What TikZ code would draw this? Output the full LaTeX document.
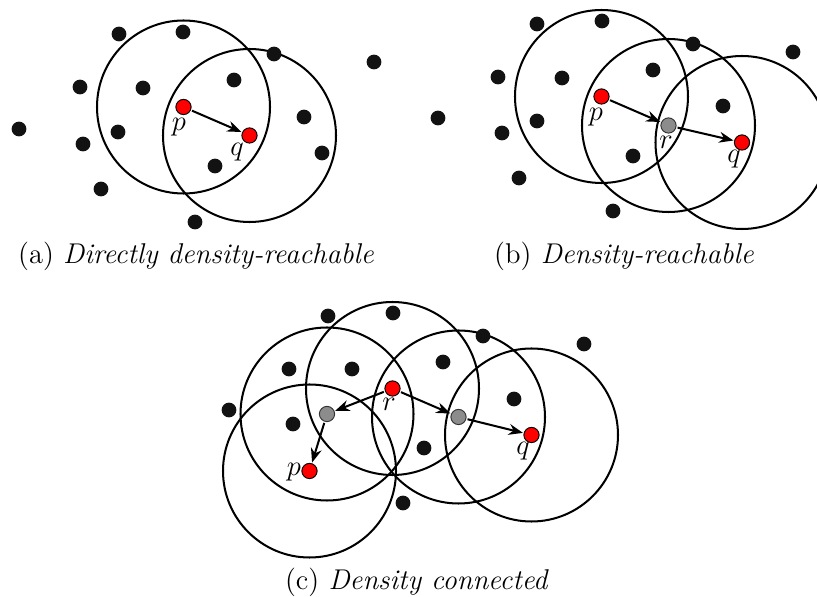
\documentclass[tikz,border=0pt]{standalone}
\usetikzlibrary{arrows.meta}
\begin{document}
\begin{tikzpicture}[x=0.42pt,y=-0.42pt,
  dot/.style={circle,fill=black!93,inner sep=0pt,minimum size=6.2pt},
  keypt/.style={circle,draw=black,line width=0.4pt,fill=red,inner sep=0pt,minimum size=6.4pt},
  midpt/.style={circle,draw=black!80,line width=0.4pt,fill=black!45,inner sep=0pt,minimum size=6.4pt},
  ring/.style={draw=black,line width=0.85pt},
  reach/.style={-{Stealth[length=6pt,width=4.6pt]},line width=0.85pt,shorten <=0.5pt,shorten >=0.3pt},
  lbl/.style={inner sep=0pt,font=\large},
  captext/.style={inner sep=0pt,font=\large}]
\useasboundingbox (0,0) rectangle (817,597);

% ---------- (a)
\draw[ring] (183.5,107) circle[radius=86.5];
\draw[ring] (249.5,135.5) circle[radius=86.5];
\foreach \n/\x/\y in {a1/119/34,a2/183/32,a3/274/54,a4/374/62,a5/80/87,a6/143/88,a7/234/80,a8/19/129,a9/118/132,a10/83/144,a11/304/117,a12/322/153,a13/215/166,a14/101/189,a15/195/222}
  \node[dot] (\n) at (\x,\y) {};
\node[keypt] (ap) at (183.5,107) {};
\node[keypt] (aq) at (249.5,135.5) {};
\node[lbl] (apl) at (179,127) {$p$};
\node[lbl] (aql) at (237,152) {$q$};
\draw[reach] (ap) -- (aq);
\node[captext] (capa) at (196,256) {(a) \textit{Directly density-reachable}};

% ---------- (b)
\draw[ring] (601.5,96.5) circle[radius=86.5];
\draw[ring] (668.5,125.5) circle[radius=86.5];
\draw[ring] (742,142.5) circle[radius=86.5];
\foreach \n/\x/\y in {b1/537/24,b2/602/21,b3/693/44,b4/793/52,b5/498/77,b6/562/78,b7/653/70,b8/438/118,b9/537/121,b10/502/133,b11/723/106,b12/633/156,b13/519/178,b14/613/211}
  \node[dot] (\n) at (\x,\y) {};
\node[keypt] (bp) at (601.5,96.5) {};
\node[midpt] (br) at (668.5,125.5) {};
\node[keypt] (bq) at (742,142.5) {};
\node[lbl] (bpl) at (596,117) {$p$};
\node[lbl] (brl) at (666,142) {$r$};
\node[lbl] (bql) at (734,159) {$q$};
\draw[reach] (bp) -- (br);
\draw[reach] (br) -- (bq);
\node[captext] (capb) at (624,256) {(b) \textit{Density-reachable}};

% ---------- (c)
\draw[ring] (309.5,471) circle[radius=86.5];
\draw[ring] (327,414) circle[radius=86.5];
\draw[ring] (392.5,388.5) circle[radius=86.5];
\draw[ring] (458.5,417) circle[radius=86.5];
\draw[ring] (531.5,435) circle[radius=86.5];
\foreach \n/\x/\y in {c1/328/316,c2/393/313,c3/483/336,c4/584/344,c5/289/369,c6/352/369,c7/443/362,c8/229/410,c9/293/424,c10/514/399,c11/424/448,c12/403/503}
  \node[dot] (\n) at (\x,\y) {};
\node[keypt] (cp) at (309.5,471) {};
\node[midpt] (cg) at (327,414) {};
\node[keypt] (cr) at (392.5,388.5) {};
\node[midpt] (ch) at (458.5,417) {};
\node[keypt] (cq) at (531.5,435) {};
\node[lbl] (crl) at (389,404) {$r$};
\node[lbl] (cpl) at (294,472) {$p$};
\node[lbl] (cql) at (523,451) {$q$};
\draw[reach] (cr) -- (cg);
\draw[reach] (cg) -- (cp);
\draw[reach] (cr) -- (ch);
\draw[reach] (ch) -- (cq);
\node[captext] (capc) at (417,582) {(c) \textit{Density connected}};
\end{tikzpicture}
\end{document}
